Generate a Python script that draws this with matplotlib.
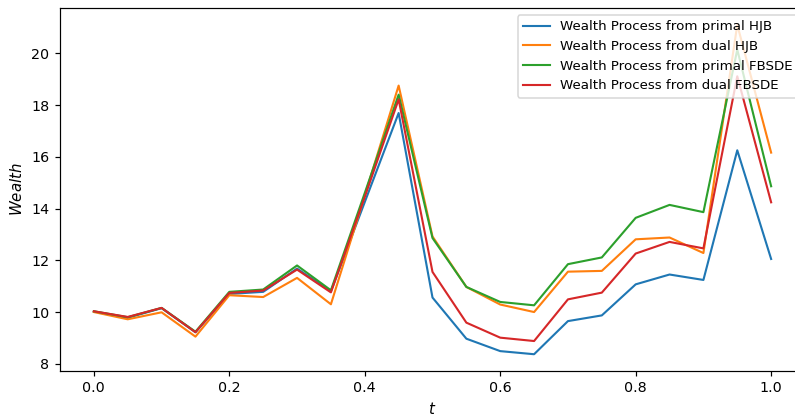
import numpy as np
import matplotlib
matplotlib.use("Agg")
import matplotlib.pyplot as plt

# time grid and wealth paths from the four solvers
t = [0.00, 0.05, 0.10, 0.15, 0.20, 0.25, 0.30, 0.35, 0.40, 0.45, 0.50,
     0.55, 0.60, 0.65, 0.70, 0.75, 0.80, 0.85, 0.90, 0.95, 1.00]

wealth_primal_hjb = [10.02, 9.78, 10.15, 9.22, 10.70, 10.78, 11.68, 10.80, 14.25, 17.69, 10.56,
                     8.97, 8.49, 8.37, 9.65, 9.87, 11.07, 11.45, 11.24, 16.25, 12.05]
wealth_dual_hjb = [10.00, 9.72, 9.99, 9.05, 10.65, 10.58, 11.32, 10.30, 14.50, 18.75, 12.92,
                   10.97, 10.29, 10.00, 11.56, 11.59, 12.81, 12.88, 12.28, 21.10, 16.16]
wealth_primal_fbsde = [10.03, 9.80, 10.16, 9.24, 10.78, 10.87, 11.80, 10.84, 14.60, 18.40, 12.86,
                       10.97, 10.39, 10.26, 11.85, 12.11, 13.64, 14.14, 13.86, 20.14, 14.86]
wealth_dual_fbsde = [10.03, 9.81, 10.16, 9.22, 10.74, 10.83, 11.64, 10.76, 14.45, 18.22, 11.55,
                     9.59, 9.01, 8.88, 10.49, 10.75, 12.26, 12.71, 12.46, 19.11, 14.24]

labels = ["Wealth Process from primal HJB",
          "Wealth Process from dual HJB",
          "Wealth Process from primal FBSDE",
          "Wealth Process from dual FBSDE"]

W, H, DPI = 795, 417, 108
fig = plt.figure(figsize=(W / DPI, H / DPI), dpi=DPI)
left, right, top, bottom = 60, 805, 8.3, 370.7
ax = fig.add_axes([left / W, 1 - bottom / H, (right - left) / W, (bottom - top) / H])

for series, lab in zip([wealth_primal_hjb, wealth_dual_hjb, wealth_primal_fbsde, wealth_dual_fbsde], labels):
    ax.plot(t, series, label=lab, linewidth=1.4)

ax.set_xlabel("$t$")
ax.set_ylabel("$Wealth$")
ax.set_yticks([8, 10, 12, 14, 16, 18, 20])
ax.tick_params(labelsize=9.5)
ax.legend(loc="upper right", fontsize=8.9)

fig.savefig("out.png", dpi=DPI)
